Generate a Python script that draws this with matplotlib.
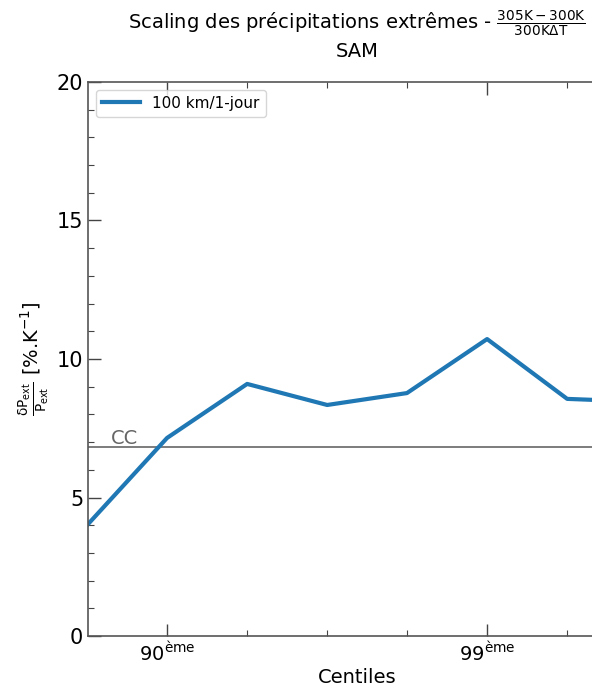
import numpy as np
import matplotlib
matplotlib.use("Agg")
import matplotlib.pyplot as plt
import matplotlib.transforms as mtransforms

plt.rcParams['mathtext.default'] = 'regular'

# Data
centiles = [82.22, 90.0, 94.38, 96.84, 98.22, 99.0, 99.438, 99.684]
scaling = [4.0, 7.15, 9.1, 8.34, 8.77, 10.72, 8.56, 8.45]
cc_value = 6.83
series_label = "100 km/1-jour"
major_centiles = [90.0, 99.0]
major_labels = [r"90$^{ème}$", r"99$^{ème}$"]
minor_centiles = [94.38, 96.84, 98.22, 99.438]

def fwd(q):
    q = np.asarray(q, dtype=float)
    return -np.log10(np.clip(1 - q / 100.0, 1e-12, None))

def inv(x):
    x = np.asarray(x, dtype=float)
    return 100.0 * (1 - 10.0 ** (-x))

fig = plt.figure(figsize=(5.92, 6.91), dpi=100)
ax = fig.add_axes([88/592, 1 - 636/691, (626 - 88)/592, (636 - 82)/691])
ax.set_xscale('function', functions=(fwd, inv))

ax.axhline(cc_value, color='#666666', lw=1.2, zorder=1)
ax.plot(centiles, scaling, color='#1f77b4', lw=3, label=series_label, zorder=2)

ax.set_xticks(major_centiles)
ax.set_xticklabels(major_labels)
ax.set_xticks(minor_centiles, minor=True)
ax.set_xticklabels([], minor=True)
ax.set_yticks([0, 5, 10, 15, 20])
ax.set_yticks(np.arange(0, 21, 1), minor=True)

ax.set_xlim(inv(0.753), inv(2.434))
ax.set_ylim(0, 20)

ax.tick_params(which='both', direction='in', top=True, right=True, colors='#444444', labelcolor='black')
ax.tick_params(which='major', length=9, width=1.0, labelsize=15)
ax.tick_params(which='minor', length=4, width=0.8)
ax.tick_params(axis='x', which='major', labelsize=14, pad=4)
for s in ax.spines.values():
    s.set_color('#555555')
    s.set_linewidth(1.2)

trans = mtransforms.blended_transform_factory(ax.transAxes, ax.transData)
ax.text(0.043, cc_value - 0.05, 'CC', transform=trans, fontsize=14, color='#666666',
        va='bottom', ha='left')

ax.set_xlabel('Centiles', fontsize=14, labelpad=2)
ax.set_ylabel(r'$\frac{\delta P_{ext}}{P_{ext}}$ [%.K$^{-1}$]', fontsize=14)
ax.set_title('Scaling des précipitations extrêmes - $\\frac{305K-300K}{300K\\Delta T}$\nSAM',
             fontsize=14, pad=18)

ax.legend(loc='upper left', fontsize=11, handlelength=2.5, frameon=True)

fig.savefig('out.png', dpi=100)
